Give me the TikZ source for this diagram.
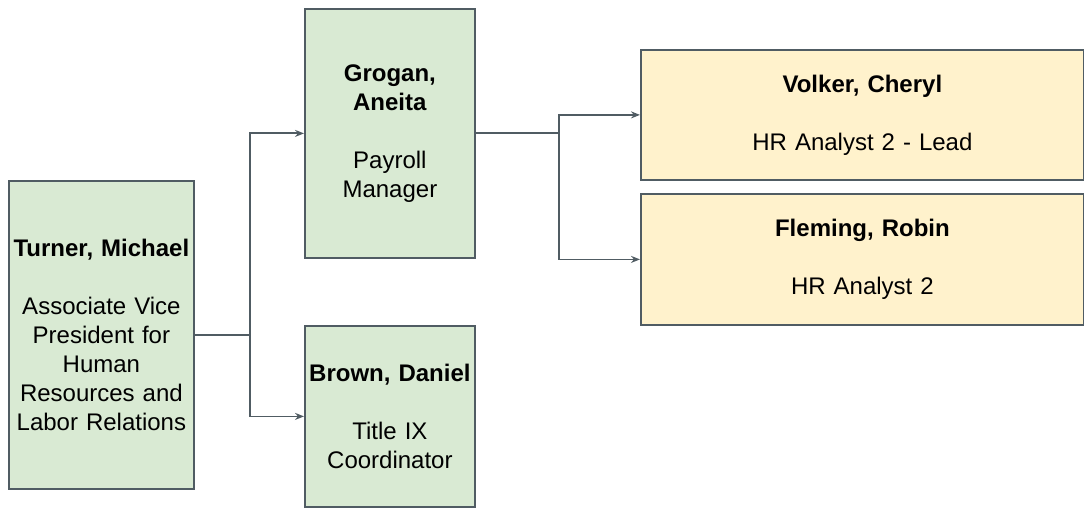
\documentclass[tikz,border=0pt]{standalone}
\usepackage{fontspec}
\setmainfont{Liberation Sans}
\usetikzlibrary{arrows.meta}
\definecolor{boxgreen}{HTML}{D9EAD3}
\definecolor{boxyellow}{HTML}{FFF2CC}
\definecolor{edgegray}{HTML}{505C63}
\tikzset{
  person/.style={draw=edgegray, line width=1.8pt, anchor=north west, inner sep=0pt,
    align=center, font=\fontsize{24}{29}\selectfont},
  link/.style={draw=edgegray, line width=1.8pt},
  arr/.style={link, -{Stealth[length=9pt,width=7pt]}}
}
\begin{document}
\begin{tikzpicture}[x=1pt,y=-1pt]
  \useasboundingbox (0,0) rectangle (1084,508);
  % staff boxes
  \node [person, fill=boxgreen, minimum width=185pt, minimum height=308pt, text width=185pt] (turner) at (8,180)
    {\textbf{Turner, Michael}\\[29pt] Associate Vice\\ President for\\ Human\\ Resources and\\ Labor Relations};
  \node [person, fill=boxgreen, minimum width=170pt, minimum height=249pt, text width=170pt] (grogan) at (304,8)
    {\textbf{Grogan,}\\ \textbf{Aneita}\\[29pt] Payroll\\ Manager};
  \node [person, fill=boxgreen, minimum width=170pt, minimum height=181pt, text width=170pt] (brown) at (304,325)
    {\textbf{Brown, Daniel}\\[29pt] Title IX\\ Coordinator};
  \node [person, fill=boxyellow, minimum width=443pt, minimum height=130pt, text width=443pt] (volker) at (640,49)
    {\textbf{Volker, Cheryl}\\[29pt] HR Analyst 2 - Lead};
  \node [person, fill=boxyellow, minimum width=443pt, minimum height=131pt, text width=443pt] (fleming) at (640,193)
    {\textbf{Fleming, Robin}\\[29pt] HR Analyst 2};
  % reporting lines
  \draw [link] (turner.east) -- ++(55,0) coordinate (j1);
  \draw [arr] (j1) |- (grogan.west);
  \draw [arr] (j1) |- (brown.west);
  \draw [link] (grogan.east) -- ++(83,0) coordinate (j2);
  \draw [arr] (j2) |- (volker.west);
  \draw [arr] (j2) |- (fleming.west);
\end{tikzpicture}
\end{document}
